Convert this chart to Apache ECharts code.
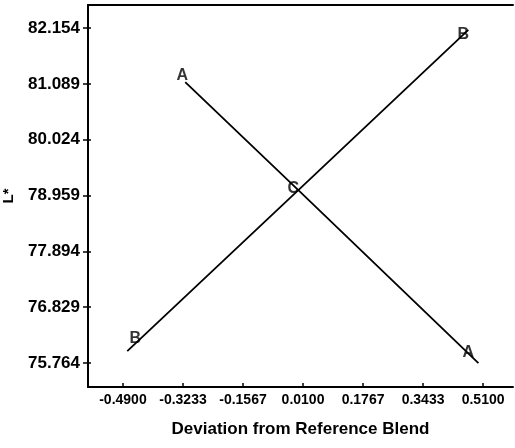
<!DOCTYPE html>
<html>
<head>
<meta charset="utf-8">
<script src="https://cdn.jsdelivr.net/npm/echarts@6/dist/echarts.min.js"></script>
<style>html,body{margin:0;padding:0;background:#fff}#c{width:515px;height:448px}</style>
</head>
<body>
<div id="c"></div>
<script>
// Tick labels
const xTicks = [-0.49, -0.3233, -0.1567, 0.01, 0.1767, 0.3433, 0.51];
const yTicks = [75.764, 76.829, 77.894, 78.959, 80.024, 81.089, 82.154];
// Trace A
const aX = [-0.317, -0.003, 0.497];
const aY = [81.12, 79.06, 75.76];
// Trace B
const bX = [-0.478, -0.003, 0.469];
const bY = [75.99, 79.06, 82.12];
// Plot letters
const letterText = ['A', 'A', 'B', 'B', 'C'];
const letterX = [-0.325, 0.469, -0.456, 0.455, -0.017];
const letterY = [81.24, 75.97, 76.22, 82.02, 79.10];

const font = '"Liberation Sans", Arial, sans-serif';
const chart = echarts.init(document.getElementById('c'), null, {renderer: 'canvas'});
const zip = (xs, ys) => xs.map((x, i) => [x, ys[i]]);

chart.setOption({
  animation: false,
  backgroundColor: '#fff',
  grid: {left: 88, top: 5, right: 2, bottom: 61, containLabel: false, outerBoundsMode: 'none'},
  xAxis: [{
    type: 'value', min: -0.587, max: 0.593, position: 'bottom',
    name: 'Deviation from Reference Blend', nameLocation: 'middle', nameGap: 34,
    nameTextStyle: {fontFamily: font, fontWeight: 'bold', fontSize: 17, color: '#000'},
    axisLine: {show: true, onZero: false, lineStyle: {color: '#000', width: 2}},
    axisTick: {show: true, inside: true, length: 4, customValues: xTicks, lineStyle: {color: '#000', width: 1.5}},
    axisLabel: {show: true, customValues: xTicks, margin: 6, color: '#000', fontFamily: font, fontWeight: 'bold', fontSize: 14,
      formatter: v => v.toFixed(4)},
    splitLine: {show: false}
  }, {
    type: 'value', min: -0.587, max: 0.593, position: 'top',
    axisLine: {show: true, onZero: false, lineStyle: {color: '#000', width: 2}},
    axisTick: {show: false}, axisLabel: {show: false}, splitLine: {show: false}
  }],
  yAxis: [{
    type: 'value', min: 75.306, max: 82.593, position: 'left',
    name: 'L*', nameLocation: 'middle', nameGap: 72, nameRotate: 90,
    nameTextStyle: {fontFamily: font, fontWeight: 'bold', fontSize: 15, color: '#000'},
    axisLine: {show: true, onZero: false, lineStyle: {color: '#000', width: 2}},
    axisTick: {show: true, inside: false, length: 5, customValues: yTicks, lineStyle: {color: '#000', width: 1.5}},
    axisLabel: {show: true, customValues: yTicks, margin: 8, color: '#000', fontFamily: font, fontWeight: 'bold', fontSize: 17,
      formatter: v => v.toFixed(3)},
    splitLine: {show: false}
  }, {
    type: 'value', min: 75.306, max: 82.593, position: 'left', offset: 0,
    axisLine: {show: false, onZero: false},
    axisTick: {show: true, inside: true, length: 3, customValues: yTicks, lineStyle: {color: '#000', width: 1.5}},
    axisLabel: {show: false}, splitLine: {show: false}
  }],
  series: [{
    type: 'line', name: 'A', data: zip(aX, aY), showSymbol: false, symbol: 'none',
    lineStyle: {color: '#000', width: 1.8}
  }, {
    type: 'line', name: 'B', data: zip(bX, bY), showSymbol: false, symbol: 'none',
    lineStyle: {color: '#000', width: 1.8}
  }, {
    type: 'scatter', name: 'letters', symbolSize: 1, itemStyle: {color: 'rgba(0,0,0,0)'},
    data: letterX.map((x, i) => ({value: [x, letterY[i]], name: letterText[i]})),
    label: {show: true, position: 'inside', formatter: p => p.name, color: '#000',
      fontFamily: font, fontWeight: 'bold', fontSize: 16, backgroundColor: 'transparent'}
  }]
});
</script>
</body>
</html>
